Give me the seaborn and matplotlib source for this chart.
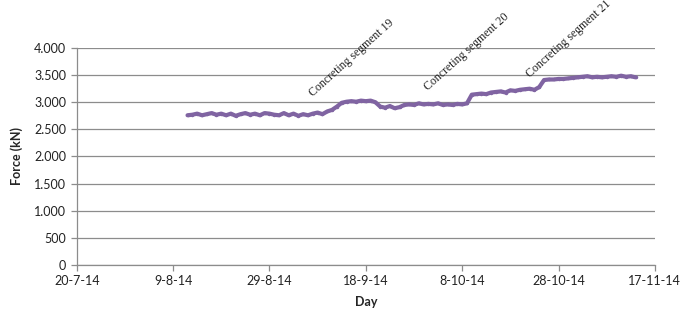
import matplotlib
matplotlib.use("Agg")
import matplotlib.pyplot as plt
import matplotlib.dates as mdates
import matplotlib.ticker as mticker
import numpy as np
import pandas as pd
import seaborn as sns

# daily force readings (kN), starting 12-8-14
start_day = "2014-08-12"
force = [
    2760, 2770, 2790, 2760, 2780, 2800, 2770, 2790, 2760, 2790,
    2750, 2780, 2800, 2770, 2790, 2760, 2800, 2790, 2770, 2760,
    2800, 2760, 2790, 2750, 2780, 2760, 2790, 2810, 2780, 2830,
    2860, 2920, 2990, 3010, 3020, 3010, 3030, 3020, 3030, 3000,
    2920, 2900, 2930, 2890, 2910, 2950, 2960, 2950, 2980, 2960,
    2970, 2960, 2980, 2950, 2960, 2950, 2970, 2960, 2980, 3140,
    3150, 3160, 3150, 3180, 3190, 3200, 3180, 3220, 3210, 3230,
    3240, 3250, 3230, 3280, 3410, 3420, 3420, 3430, 3430, 3440,
    3450, 3460, 3470, 3480, 3460, 3470, 3460, 3470, 3480, 3470,
    3490, 3470, 3480, 3460,
]

tick_days = ["2014-07-20", "2014-08-09", "2014-08-29", "2014-09-18",
             "2014-10-08", "2014-10-28", "2014-11-17"]

notes = ["Concreting segment 19", "Concreting segment 20", "Concreting segment 21"]
note_days = ["2014-09-07", "2014-10-01", "2014-10-22"]
note_force = [3100, 3220, 3460]

df = pd.DataFrame({"day": pd.date_range(start_day, periods=len(force), freq="D"),
                   "force": force})

sns.set_style("white")
plt.rcParams["font.family"] = ["Lato", "DejaVu Sans"]

fig = plt.figure(figsize=(6.85, 3.12), dpi=100)
ax = fig.add_axes([0.112, 0.151, 0.844, 0.695])

sns.lineplot(data=df, x="day", y="force", ax=ax, color="#8064A2",
             linewidth=3, marker="o", markersize=2.5, markeredgewidth=0)

ticks = pd.to_datetime(tick_days)
ax.set_xlim(ticks[0], ticks[-1])
ax.set_xticks(ticks)
ax.xaxis.set_major_formatter(mticker.FuncFormatter(
    lambda v, p: (lambda d: f"{d.day}-{d.month}-{d:%y}")(mdates.num2date(v))))
ax.set_ylim(0, 4000)
ax.set_yticks(np.arange(0, 4001, 500))
ax.yaxis.set_major_formatter(mticker.FuncFormatter(
    lambda v, p: f"{int(v):,}".replace(",", ".")))

ax.grid(axis="y", color="#8c8c8c", linewidth=0.9)
ax.grid(axis="x", visible=False)
ax.set_axisbelow(True)
for s in ["top", "right"]:
    ax.spines[s].set_visible(False)
for s in ["left", "bottom"]:
    ax.spines[s].set_color("#8c8c8c")
    ax.spines[s].set_linewidth(0.9)
ax.tick_params(axis="both", which="both", length=4, width=0.9, color="#8c8c8c",
               labelsize=9, labelcolor="#222222", direction="out",
               bottom=True, left=True)

ax.set_xlabel("Day", fontsize=9, fontweight="bold", labelpad=6)
ax.set_ylabel("Force (kN)", fontsize=9, fontweight="bold", labelpad=8)

for txt, d, f in zip(notes, note_days, note_force):
    ax.text(pd.Timestamp(d), f, txt, rotation=42, rotation_mode="anchor",
            ha="left", va="baseline", fontsize=8.5, family="Liberation Serif",
            color="#222222", clip_on=False)

fig.savefig("out.png", dpi=100)
